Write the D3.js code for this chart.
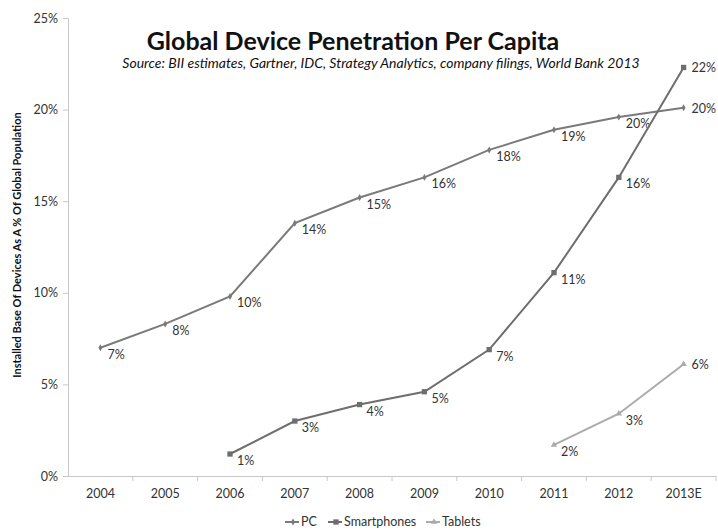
<!DOCTYPE html>
<meta charset="utf-8">
<style>
body { margin: 0; background: #fff; }
text { font-family: Lato, "Open Sans", sans-serif; fill: #333; }
.axis path, .axis line { stroke: #c8c8c8; }
.axis text { font-size: 12.5px; fill: #333; }
</style>
<svg width="718" height="532"></svg>
<script src="https://d3js.org/d3.v7.min.js"></script>
<script>

// Data
var years = ["2004", "2005", "2006", "2007", "2008", "2009", "2010", "2011", "2012", "2013E"];
var pc = [7.0, 8.3, 9.8, 13.8, 15.2, 16.3, 17.8, 18.9, 19.6, 20.1];
var smartphones = [null, null, 1.2, 3.0, 3.9, 4.6, 6.9, 11.1, 16.3, 22.3];
var tablets = [null, null, null, null, null, null, null, 1.7, 3.4, 6.1];
var yTicks = [0, 5, 10, 15, 20, 25];

var series = [
  {name: "PC", values: pc, color: "#7a7a7a", symbol: d3.symbolDiamond, size: 14},
  {name: "Smartphones", values: smartphones, color: "#6e6e6e", symbol: d3.symbolSquare, size: 28},
  {name: "Tablets", values: tablets, color: "#ababab", symbol: d3.symbolTriangle, size: 18}
];

var svg = d3.select("svg");

var x = d3.scaleBand().domain(years).range([68, 716]);
var y = d3.scaleLinear().domain([0, 25]).range([476, 18]);

// Axes
svg.append("g")
    .attr("class", "axis")
    .attr("transform", "translate(68,0)")
    .call(d3.axisLeft(y).tickValues(yTicks).tickSize(5).tickFormat(function(d) { return d + "%"; }))
    .call(function(g) { g.selectAll("text").attr("dx", "-2"); });

var xAxis = svg.append("g")
    .attr("class", "axis")
    .attr("transform", "translate(0,476)")
    .call(d3.axisBottom(x).tickSize(0).tickPadding(13));
// tick marks between categories
xAxis.selectAll(".sep")
    .data(years)
    .enter().append("line")
    .attr("x1", function(d) { return x(d) + x.bandwidth(); })
    .attr("x2", function(d) { return x(d) + x.bandwidth(); })
    .attr("y1", 0).attr("y2", 5)
    .attr("stroke", "#c8c8c8");

// Lines, markers, labels
var line = d3.line()
    .defined(function(d) { return d.v != null; })
    .x(function(d) { return x(d.year) + x.bandwidth() / 2; })
    .y(function(d) { return y(d.v); });

series.forEach(function(s) {
  var pts = years.map(function(yr, i) { return {year: yr, v: s.values[i]}; });
  var g = svg.append("g");
  g.append("path")
      .datum(pts)
      .attr("fill", "none")
      .attr("stroke", s.color)
      .attr("stroke-width", 2)
      .attr("d", line);
  var valid = pts.filter(function(d) { return d.v != null; });
  g.selectAll("path.m")
      .data(valid)
      .enter().append("path")
      .attr("class", "m")
      .attr("fill", s.color)
      .attr("d", d3.symbol().type(s.symbol).size(s.size))
      .attr("transform", function(d) { return "translate(" + line.x()(d) + "," + line.y()(d) + ")"; });
  g.selectAll("text")
      .data(valid)
      .enter().append("text")
      .attr("x", function(d) { return line.x()(d) + (d.year == "2013E" ? 8 : 7); })
      .attr("y", function(d) { return line.y()(d) + (d.year == "2013E" ? 5 : 11); })
      .attr("font-size", 12.5)
      .text(function(d) { return Math.round(d.v) + "%"; });
});

// Title
svg.append("text")
    .attr("x", 353).attr("y", 50)
    .attr("text-anchor", "middle")
    .attr("font-size", 25)
    .attr("font-weight", "bold")
    .style("fill", "#111")
    .text("Global Device Penetration Per Capita");

svg.append("text")
    .attr("x", 381).attr("y", 68)
    .attr("text-anchor", "middle")
    .attr("font-size", 14)
    .attr("font-style", "italic")
    .style("fill", "#111")
    .text("Source: BII estimates, Gartner, IDC, Strategy Analytics, company filings, World Bank 2013");

// Y axis title
svg.append("text")
    .attr("transform", "translate(21,245) rotate(-90)")
    .attr("text-anchor", "middle")
    .attr("font-size", 11)
    .attr("font-weight", "bold")
    .style("fill", "#111")
    .text("Installed Base Of Devices As A % Of Global Population");

// Legend
var legend = svg.append("g").attr("transform", "translate(0,522)");
var lx = [285, 328, 426];
series.forEach(function(s, i) {
  var lg = legend.append("g").attr("transform", "translate(" + lx[i] + ",0)");
  lg.append("line").attr("x1", 0).attr("x2", 14).attr("y1", 0).attr("y2", 0)
      .attr("stroke", s.color).attr("stroke-width", 2);
  lg.append("path").attr("d", d3.symbol().type(s.symbol).size(s.size))
      .attr("fill", s.color).attr("transform", "translate(8,0)");
  lg.append("text").attr("x", 16).attr("y", 4).attr("font-size", 12.5).text(s.name);
});

</script>
